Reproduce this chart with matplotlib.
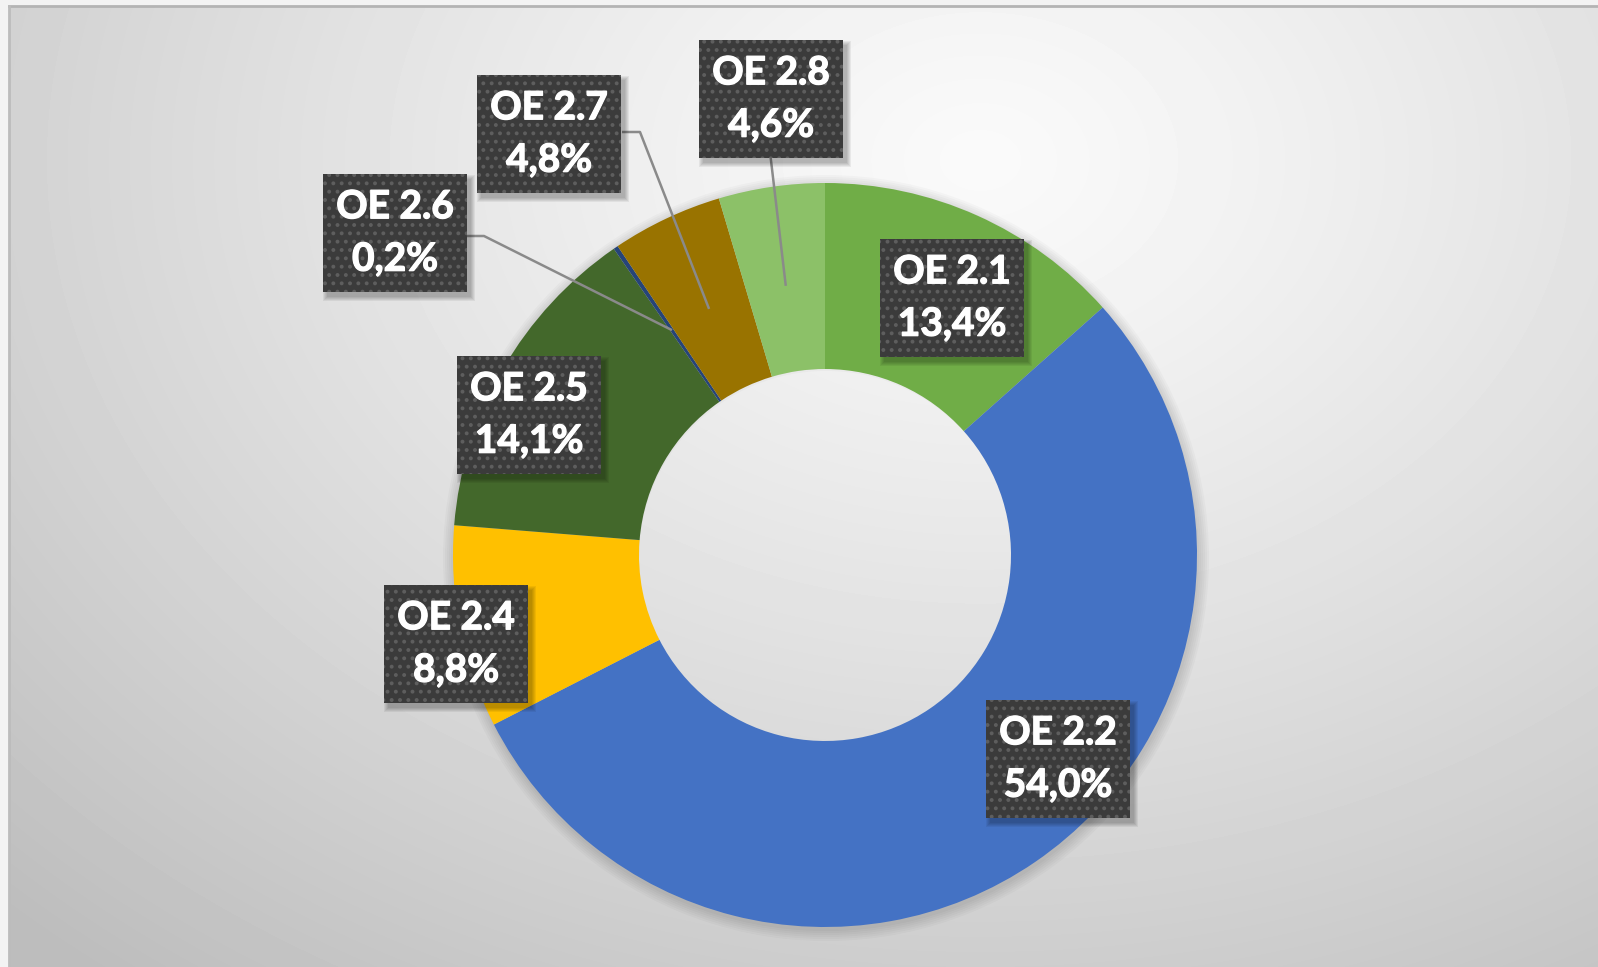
import numpy as np
import matplotlib.pyplot as plt
import matplotlib.patheffects as pe
from matplotlib.patches import Rectangle, Wedge

# data (share of total, %)
labels = ['OE 2.1', 'OE 2.2', 'OE 2.4', 'OE 2.5', 'OE 2.6', 'OE 2.7', 'OE 2.8']
shares = [13.4, 54.0, 8.8, 14.1, 0.2, 4.8, 4.6]
colors = ['#70AD47', '#4472C4', '#FFC000', '#43682B', '#264478', '#997300', '#8CC168']

# label box centres in pixels (x from left, y from top)
label_pos = [(952, 298), (1058, 759), (456, 644), (529, 415),
             (395, 233), (549, 134), (771, 99)]
# labels that get a leader line and where the line leaves the box
leaders = {'OE 2.6': [(467, 236), (484, 236)],
           'OE 2.7': [(622, 132), (640, 132)],
           'OE 2.8': [(770, 152)]}

W, H = 1598, 967
cx, cy, r_out = 825, 555, 372

plt.rcParams['hatch.linewidth'] = 1.6

fig = plt.figure(figsize=(W / 100, H / 100), dpi=100)
fig.patch.set_facecolor('#f0f0f0')
ax = fig.add_axes([0, 0, 1, 1])

# soft grey radial background, like the office chart area fill
yy, xx = np.mgrid[0:H, 0:W]
t = np.sqrt(((xx - 980) / 1200.0) ** 2 + ((yy - 160) / 900.0) ** 2)
grad = np.clip(0.98 - 0.2 * t ** 1.2, 0.74, 1)
grad[(xx < 9) | (yy < 6)] = 0.95
ax.imshow(grad, extent=(0, W, H, 0), cmap='gray', vmin=0, vmax=1,
          interpolation='bilinear', zorder=0, aspect='auto')
ax.plot([9, W], [6, 6], color='#b4b4b4', lw=2, zorder=1)
ax.plot([9, 9], [6, H], color='#bcbcbc', lw=2, zorder=1)

# faint shadow just outside the ring (annuli so the hole stays light)
for k in range(6):
    ax.add_patch(Wedge((cx + 1, cy + 3), r_out + 1 + 2 * k, 0, 360,
                       width=r_out / 2, color='black', alpha=0.025, lw=0,
                       zorder=1))

# y axis points down, so start at -90 and go counterclockwise in data
# terms to get a clockwise ring starting at 12 o'clock
wedges, _ = ax.pie(shares, colors=colors, startangle=-90, counterclock=True,
                   radius=r_out, center=(cx, cy), frame=True,
                   wedgeprops=dict(width=r_out / 2, linewidth=0))
for w in wedges:
    w.set_zorder(2)
ax.set_xlim(0, W)
ax.set_ylim(H, 0)
ax.axis('off')

# leader lines to the small slices
for w, lab in zip(wedges, labels):
    if lab not in leaders:
        continue
    mid = np.deg2rad((w.theta1 + w.theta2) / 2)
    end = (cx + 272 * np.cos(mid), cy + 272 * np.sin(mid))
    pts = leaders[lab] + [end]
    ax.plot([p[0] for p in pts], [p[1] for p in pts], color='#8a8a8a',
            lw=1.8, zorder=3, solid_capstyle='butt')

# dark dotted label boxes
bw, bh = 144, 118
for lab, val, (x, y) in zip(labels, shares, label_pos):
    for k in range(5):
        ax.add_patch(Rectangle((x - bw / 2 + 4 - k, y - bh / 2 + 5 - k),
                               bw + 2 * k, bh + 2 * k, color='black',
                               alpha=0.06, lw=0, zorder=4))
    ax.add_patch(Rectangle((x - bw / 2, y - bh / 2), bw, bh,
                           facecolor='#3b3b3b', edgecolor='#5e5e5e',
                           hatch='..', lw=0, zorder=5))
    pct = f'{val:.1f}'.replace('.', ',') + '%'
    ax.text(x, y, f'{lab}\n{pct}', ha='center', va='center',
            color='white', fontsize=28, fontweight='bold', family='Lato',
            linespacing=1.6, zorder=6,
            path_effects=[pe.withStroke(linewidth=0.9, foreground='white')])

plt.savefig('out.png', dpi=100)
